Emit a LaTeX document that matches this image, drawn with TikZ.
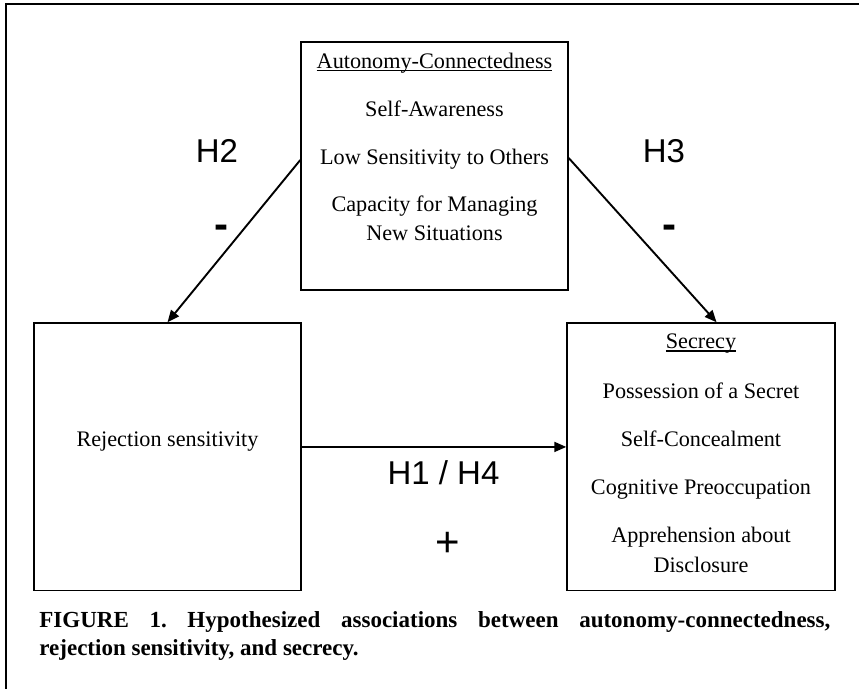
\documentclass[tikz,border=0pt]{standalone}
\usepackage{fontspec}
\setmainfont{Liberation Serif}
\newfontfamily\hfont{Liberation Sans}
\usetikzlibrary{arrows.meta}
\usetikzlibrary{positioning}
\newcommand{\uln}[1]{\setbox0\hbox{#1}\rlap{\rule[-1.3pt]{\wd0}{0.6pt}}\box0}
\tikzset{var box/.style={rectangle,draw,line width=0.7pt,minimum width=133.5pt,minimum height=124pt,inner sep=0pt},
         item/.style={anchor=base,inner sep=0pt,font=\fontsize{11.1}{13}\selectfont},
         hyp/.style={inner sep=0pt,font=\hfont\fontsize{16.5}{18}\selectfont},
         sign/.style={inner sep=0pt,font=\hfont\fontsize{21}{23}\selectfont},
         path arrow/.style={line width=0.95pt,-{Triangle[length=6pt,width=5pt]}}}

\begin{document}
\frenchspacing
\begin{tikzpicture}[x=0.5pt,y=-0.5pt]
    \useasboundingbox (0,0) rectangle (859,689);
    % frame
    \draw[line width=1pt] (5.5,689) -- (5.5,4.3) -- (859,4.3);

    % boxes
    \node[var box] (ac) at (434.5,166) {};
    \node[var box,minimum height=133.75pt] (rs) at (167.5,456.75) {};
    \node[var box,minimum width=134pt,minimum height=133.75pt] (sc) at (701,456.75) {};

    % autonomy-connectedness
    \node[item] (acT) at (434.5,68.5) {\uln{Autonomy-Connectedness}};
    \node[item] (acA) at (434.5,117) {Self-Awareness};
    \node[item] (acB) at (434.5,165) {Low Sensitivity to Others};
    \node[item] (acC) at (434.5,212) {Capacity for Managing};
    \node[item] (acD) at (434.5,241) {New Situations};

    % rejection sensitivity
    \node[item] (rsT) at (167.5,446.7) {Rejection sensitivity};

    % secrecy
    \node[item] (scT) at (701,349) {\uln{Secrecy}};
    \node[item] (scA) at (701,399) {Possession of a Secret};
    \node[item] (scB) at (701,447) {Self-Concealment};
    \node[item] (scC) at (701,495) {Cognitive Preoccupation};
    \node[item] (scD) at (701,543) {Apprehension about};
    \node[item] (scE) at (701,573) {Disclosure};

    % paths
    \draw[path arrow] ([yshift=3pt]ac.west) -- (rs.north);
    \draw[path arrow] ([yshift=4pt]ac.east) -- ([xshift=7.8pt]sc.north);
    \draw[path arrow] ([yshift=4.9pt]rs.east) -- ([yshift=4.9pt]sc.west);

    % hypotheses
    \node[hyp] (h2) at (217,151) {H2};
    \node[sign,font=\hfont\bfseries\fontsize{21}{23}\selectfont] (h2s) at (221,232) {-};
    \node[hyp] (h3) at (664,151) {H3};
    \node[sign,font=\hfont\bfseries\fontsize{21}{23}\selectfont] (h3s) at (669.5,232) {-};
    \node[hyp] (h14) at (443.5,473) {H1 / H4};
    \node[sign] (h14s) at (447.5,544) {+};

    % caption
    \node[anchor=north west,inner sep=0pt,text width=395.5pt,align=justify,
          font=\bfseries\fontsize{11.5}{14}\selectfont] (cap) at (39,611.5)
      {FIGURE 1. Hypothesized associations between autonomy-connectedness,\linebreak rejection sensitivity, and secrecy.};
\end{tikzpicture}
\end{document}
